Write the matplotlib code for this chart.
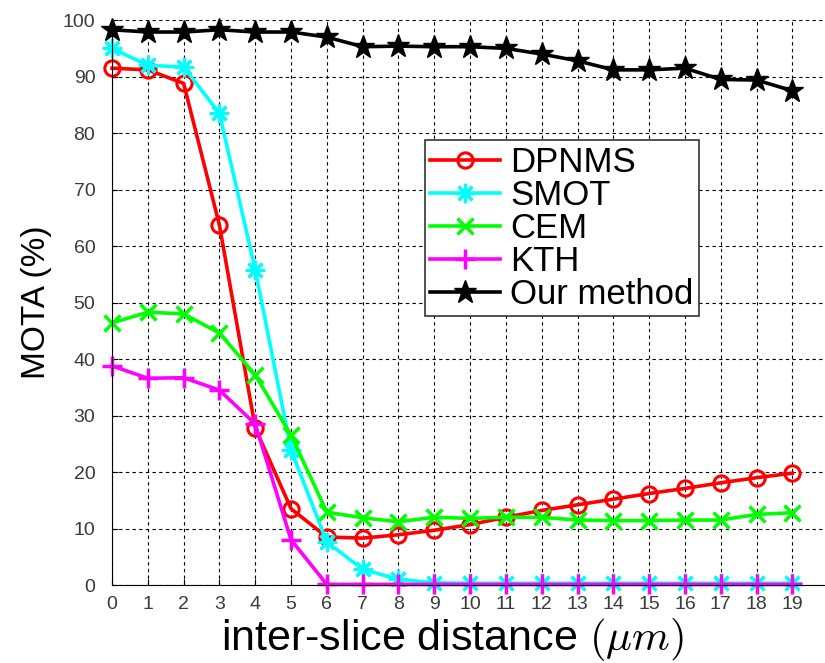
import matplotlib.pyplot as plt
import numpy as np

plt.rcParams['font.family'] = ['Liberation Sans', 'DejaVu Sans']
plt.rcParams['mathtext.fontset'] = 'cm'

# datos
dist = list(range(20))
dpnms = [91.5, 91.2, 88.8, 63.7, 27.8, 13.5, 8.5, 8.3, 8.9, 9.7, 10.7, 12.0, 13.2, 14.2, 15.2, 16.2, 17.1, 18.1, 19.0, 19.8]
smot = [95.0, 92.0, 91.7, 83.5, 55.8, 23.9, 7.6, 2.8, 1.0, 0.4, 0.3, 0.3, 0.3, 0.3, 0.3, 0.3, 0.3, 0.3, 0.3, 0.3]
cem = [46.4, 48.3, 48.0, 44.6, 37.2, 26.5, 12.9, 11.9, 11.2, 12.0, 11.8, 12.0, 12.0, 11.5, 11.4, 11.4, 11.5, 11.5, 12.5, 12.8]
kth = [38.8, 36.6, 36.7, 34.5, 28.5, 8.0, 0.1, 0.1, 0.1, 0.1, 0.1, 0.1, 0.1, 0.1, 0.1, 0.1, 0.1, 0.1, 0.1, 0.1]
ours = [98.3, 97.9, 97.9, 98.3, 97.9, 97.9, 97.0, 95.3, 95.4, 95.3, 95.3, 95.0, 94.0, 92.8, 91.2, 91.2, 91.5, 89.5, 89.4, 87.5]

fig = plt.figure(figsize=(8.25, 6.63), dpi=100)
ax = fig.add_axes([0.1358, 0.1176, 0.868, 0.852])

lw = 2.6
ax.plot(dist, dpnms, color='red', lw=lw, marker='o', ms=11, mfc='none', mew=2.2, label='DPNMS', clip_on=False)
ax.plot(dist, smot, color='cyan', lw=lw, marker=(8, 2, 0), ms=14, mew=2.2, label='SMOT', clip_on=False)
ax.plot(dist, cem, color='#00ff00', lw=lw, marker='x', ms=12, mew=2.5, label='CEM', clip_on=False)
ax.plot(dist, kth, color='magenta', lw=lw, marker='+', ms=15, mew=2.5, label='KTH', clip_on=False)
ax.plot(dist, ours, color='black', lw=lw, marker='*', ms=17, label='Our method', clip_on=False)

ax.set_xlim(0, 20)
ax.set_ylim(0, 100)
ax.set_xticks(dist)
ax.set_yticks(range(0, 101, 10))
ax.grid(True, color='black', linestyle=(0, (3, 3)), lw=0.8)
ax.set_axisbelow(True)
ax.spines['top'].set_visible(False)
ax.spines['right'].set_visible(False)
ax.tick_params(direction='in', length=4, labelsize=14, labelcolor='#3a3a3a')
ax.tick_params(axis='y', pad=12)
ax.tick_params(axis='x', pad=8)

ax.set_ylabel('MOTA (%)', fontsize=24, labelpad=8)
ax.set_xlabel(r'inter-slice distance $(\mu m)$', fontsize=31, labelpad=2, x=0.475)

leg = ax.legend(loc='upper left', bbox_to_anchor=(0.437, 0.787), fontsize=25,
                frameon=True, fancybox=False, edgecolor='#333333', framealpha=1,
                handlelength=2.0, handletextpad=0.3, labelspacing=0.0,
                borderpad=0.15, borderaxespad=0)
leg.get_frame().set_linewidth(1.2)

plt.savefig('out.png', dpi=100)
